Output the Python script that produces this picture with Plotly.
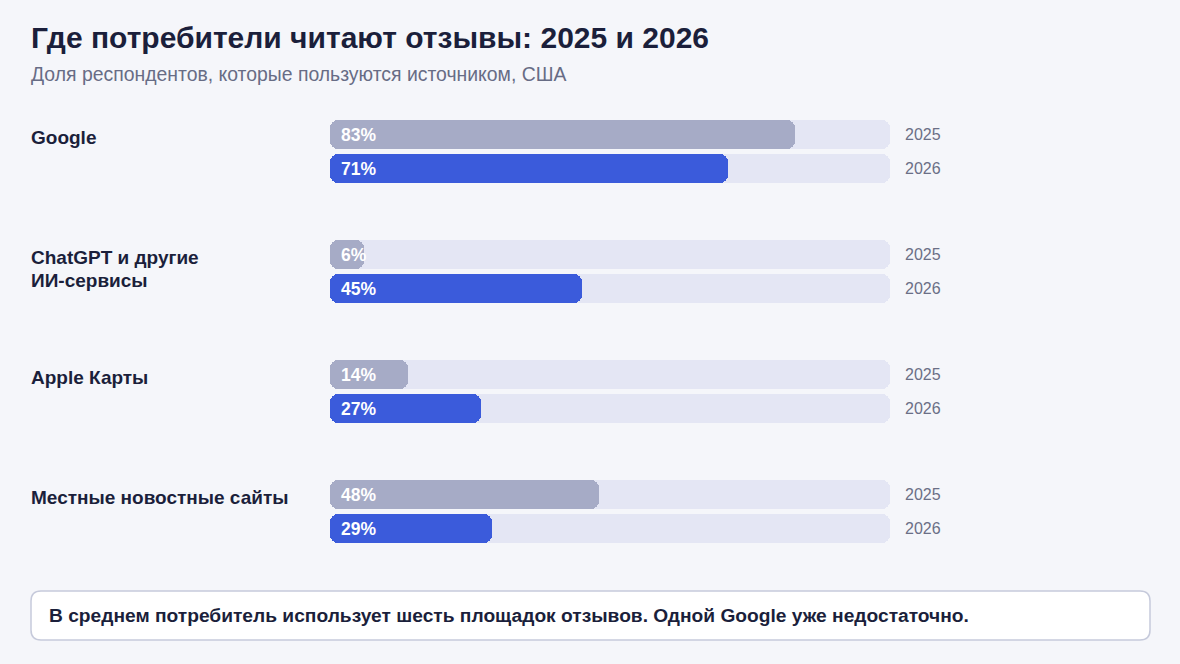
import plotly.graph_objects as go

# data
sources = ["Google", "ChatGPT и другие<br>ИИ-сервисы", "Apple Карты", "Местные новостные сайты"]
share_2025 = [83, 6, 14, 48]
share_2026 = [71, 45, 27, 29]
years = ["2025", "2026"]

title_text = "Где потребители читают отзывы: 2025 и 2026"
subtitle_text = "Доля респондентов, которые пользуются источником, США"
footer_text = "В среднем потребитель использует шесть площадок отзывов. Одной Google уже недостаточно."

W, H = 1180, 664
L, R, T, B = 330, 290, 100, 104
FONT = "Liberation Sans, Arial, sans-serif"
DARK = "#1b1f3b"
GREY_BAR = "#a6abc6"
BLUE_BAR = "#3b5bdb"
TRACK = "#e4e6f4"
BG = "#f5f6fa"


def px_x(p):
    return (p - L) / (W - L - R)


def px_y(p):
    return (H - B - p) / (H - T - B)


def row_y(i, j):
    # pixel-like y position of group i, year j
    return 134.5 + 120 * i + 34 * j


bar_w = 29
fig = go.Figure()

# background tracks
for j in range(2):
    ys = [row_y(i, j) for i in range(len(sources))]
    fig.add_trace(go.Bar(x=[100] * len(ys), base=[0] * len(ys), y=ys, orientation="h",
                         width=bar_w, marker=dict(color=TRACK, cornerradius=8, line_width=0),
                         hoverinfo="skip", showlegend=False))

# value bars
for j, (vals, col) in enumerate([(share_2025, GREY_BAR), (share_2026, BLUE_BAR)]):
    ys = [row_y(i, j) for i in range(len(sources))]
    fig.add_trace(go.Bar(x=vals, base=[0] * len(ys), y=ys, orientation="h", width=bar_w,
                         marker=dict(color=col, cornerradius=8, line_width=0),
                         name=years[j], showlegend=False))

annotations = []
for i, src in enumerate(sources):
    # category label, one annotation per line for tighter line spacing
    for k, line in enumerate(src.split("<br>")):
        annotations.append(dict(text=f"<b>{line}</b>", x=0, xref="paper", xshift=-301, xanchor="left",
                                y=row_y(i, 0), yref="y", yanchor="middle", yshift=-2.5 - 23 * k,
                                showarrow=False, font=dict(size=19, color=DARK, family=FONT)))
    for j, vals in enumerate([share_2025, share_2026]):
        annotations.append(dict(text=f"<b>{vals[i]}%</b>", x=0, xref="x", xshift=9, xanchor="left",
                                y=row_y(i, j), yref="y", showarrow=False,
                                font=dict(size=17.5, color="white", family=FONT)))
        annotations.append(dict(text=years[j], x=1, xref="paper", xshift=13, xanchor="left",
                                y=row_y(i, j), yref="y", showarrow=False,
                                font=dict(size=16, color="#6b6f86", family=FONT)))

annotations.append(dict(text=f"<b>{title_text}</b>", x=px_x(29), y=px_y(38), xref="paper", yref="paper",
                        xanchor="left", yanchor="middle", showarrow=False,
                        font=dict(size=30, color=DARK, family=FONT)))
annotations.append(dict(text=subtitle_text, x=px_x(29), y=px_y(74), xref="paper", yref="paper",
                        xanchor="left", yanchor="middle", showarrow=False,
                        font=dict(size=19.4, color="#676c85", family=FONT)))
annotations.append(dict(text=f"<b>{footer_text}</b>", x=px_x(47), y=px_y(615), xref="paper", yref="paper",
                        xanchor="left", yanchor="middle", showarrow=False,
                        font=dict(size=19.2, color=DARK, family=FONT)))

# rounded footer box
x0, x1, y0, y1, r = 31, 1150, 591, 640, 10
path = (f"M {px_x(x0 + r)},{px_y(y0)} L {px_x(x1 - r)},{px_y(y0)} "
        f"Q {px_x(x1)},{px_y(y0)} {px_x(x1)},{px_y(y0 + r)} "
        f"L {px_x(x1)},{px_y(y1 - r)} Q {px_x(x1)},{px_y(y1)} {px_x(x1 - r)},{px_y(y1)} "
        f"L {px_x(x0 + r)},{px_y(y1)} Q {px_x(x0)},{px_y(y1)} {px_x(x0)},{px_y(y1 - r)} "
        f"L {px_x(x0)},{px_y(y0 + r)} Q {px_x(x0)},{px_y(y0)} {px_x(x0 + r)},{px_y(y0)} Z")
shapes = [dict(type="path", path=path, xref="paper", yref="paper",
               fillcolor="white", line=dict(color="#c6cadb", width=1.5), layer="below")]

fig.update_layout(
    width=W, height=H,
    margin=dict(l=L, r=R, t=T, b=B),
    paper_bgcolor=BG, plot_bgcolor=BG,
    barmode="overlay",
    bargap=0,
    xaxis=dict(range=[0, 100], visible=False, fixedrange=True),
    yaxis=dict(range=[H - B, T], visible=False, fixedrange=True),
    annotations=annotations,
    shapes=shapes,
    font=dict(family=FONT),
    showlegend=False,
)

fig.write_html("out.html", config={"displayModeBar": False},
               post_script="document.body.style.margin='0';document.body.style.background='%s';" % BG)
